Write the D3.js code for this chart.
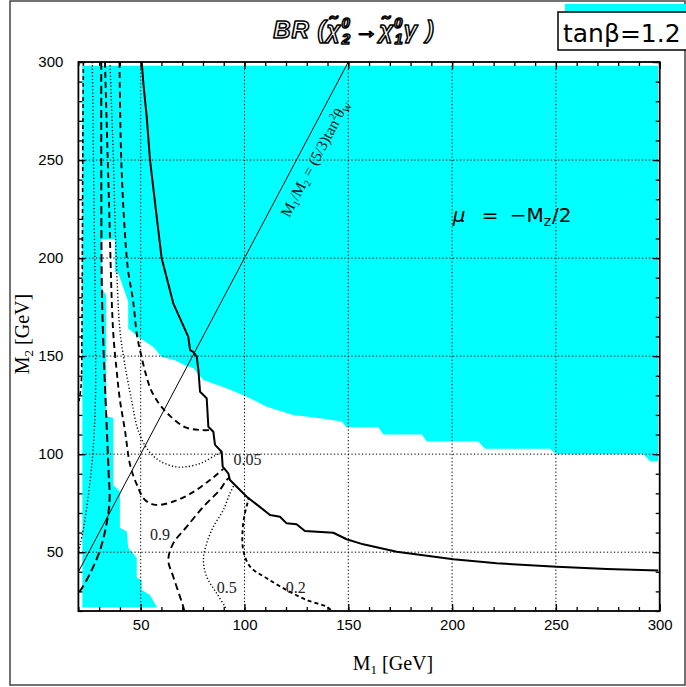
<!DOCTYPE html>
<html>
<head>
<meta charset="utf-8">
<script src="https://cdn.jsdelivr.net/npm/d3@7"></script>
<style>
  html, body { margin: 0; padding: 0; background: #fff; }
  svg { display: block; }
</style>
</head>
<body>
<svg id="chart" width="686" height="687"></svg>
<script>
// ---------------- DATA (GeV) ----------------
const xDomain = [20, 300];
const yDomain = [20, 300];
const xTicks = [50, 100, 150, 200, 250, 300];
const yTicks = [50, 100, 150, 200, 250, 300];
const minorTicks = [20, 30, 40, 50, 60, 70, 80, 90, 100, 110, 120, 130, 140, 150, 160, 170, 180, 190, 200,
  210, 220, 230, 240, 250, 260, 270, 280, 290, 300];
const gridValues = [50, 100, 150, 200, 250];

// shaded (cyan) extent of the scanned grid
const cyanX = [21.9, 299.2];
const cyanY = [21.8, 298.1];

// white (allowed) region boundary, [M1, M2]
const whiteRegion = [[31.2,209.7],[37.6,209.7],[37.6,193.0],[39.2,192.2],[44.0,177.7],[44.0,164.1],
  [48.9,159.8],[56.1,154.7],[60.1,149.6],[66.5,147.9],[71.3,145.4],[75.4,143.8],[80.2,137.8],
  [91.4,133.6],[101.1,129.3],[110.7,124.2],[123.5,120.0],[136.4,118.3],[146.8,116.6],[149.2,113.7],
  [164.5,113.7],[166.9,110.0],[185.4,110.0],[187.8,106.4],[212.6,106.4],[215.8,102.8],[247.1,102.8],
  [250.4,99.9],[292.1,99.9],[295.3,96.5],[300,96.5],[300,20],[58.5,20],[57.7,22.2],[54.5,28.2],
  [50.5,30.7],[50.5,35.8],[48.1,36.9],[48.1,47.1],[44.0,52.2],[43.3,60.5],[40.0,62.4],[40.0,80.9],
  [36.8,84.3],[36.8,118.4],[33.4,119.5],[33.4,181.2],[31.2,184.7]];

// thick solid boundary curve
const solidLine = [[50.5,300],[51.3,289.1],[52.9,272.1],[54.5,250],[57.7,221.1],[60.1,199.9],[65.7,176.9],
  [72.9,159.9],[73.8,153.1],[75.3,152.2],[77.0,149.7],[77.8,142.9],[78.6,131.8],[81.8,128.5],[82.6,114],
  [85.0,111.4],[85.8,104.7],[89.0,101.2],[89.5,93.6],[92.2,90.2],[93.0,86.8],[101.1,78.3],[112.3,69],
  [117.1,68.1],[120.3,64.7],[125.1,64.2],[129.1,60.8],[142.8,59.9],[149.2,56.6],[157.2,54],[173.3,50.2],
  [200.6,46.4],[221.5,44.3],[250.4,42.6],[274.5,41.4],[299.3,40.6]];

// M1/M2 = (5/3) tan^2 theta_W line
const ratioLine = [[20, 40], [150, 300]];

// BR contours
const contourL1 = [[22.4,300],[22.1,250],[21.9,200],[21.7,160],[21.3,135],[20.3,127]];
const contourP0 = [[26.7,300],[27.5,229.6],[28.2,163.3],[28.2,127.6],[27.0,101.1],[25.1,81.7],[22.7,63.5],[20.8,53.7],[20,50.1]];
const contourD2 = [[31.0,300],[31.1,209.2],[31.4,178.6],[32.3,148.0],[33.5,117.4],[34.5,91.9],[35.0,76.6],[33.6,64.7],[30.4,51.0],[25.6,39.1],[21.6,31.5],[20,29.2]];
const contourD3 = [[32.8,300],[34.7,229.6],[36.7,163.3],[38.4,142.9],[40.0,127.6],[42.4,112.3],[44.9,94.5],[48.2,84.3],[52.1,76.6],[57.4,74.1],[65.1,75.6],[73.8,79.7],[83.4,86.8],[89.8,92.5]];
const contourP1 = [[35.2,300],[36.7,255.1],[38.1,204.1],[40.0,163.3],[42.4,145.5],[45.6,127.6],[48.7,112.3],[53.5,102.1],[59.3,96.5],[68.0,93.4],[78.6,95.2],[86.3,99.6],[89.2,101.1]];
const contourD4 = [[39.8,300],[40.5,255.1],[42.0,219.4],[43.9,193.9],[46.3,178.6],[48.2,160.8],[50.2,150.6],[52.6,140.4],[55.0,132.7],[59.3,125.1],[64.1,119.5],[71.3,113.8],[78.6,112.3],[84.4,112.3]];
const contourB1 = [[71.0,20],[70.5,22.2],[65.7,37.5],[63.3,46.0],[65.7,54.5],[72.2,63.0],[80.2,73.2],[88.2,81.9],[91.4,86.8],[92.6,87.9]];
const contourB2 = [[91.5,20],[90.6,22.2],[86.6,29.0],[81.8,37.5],[80.2,46.0],[81.8,54.5],[85.0,63.0],[89.8,71.5],[93.0,80.0],[95.2,84.6]];
const contourB3 = [[141.5,20.6],[139.6,22.2],[130.0,25.6],[120.3,30.7],[110.7,36.7],[102.7,42.6],[99.4,51.1],[99.1,61.3],[100.2,69.8],[101.8,76.6],[102.0,77.8]];

const contourLabels = [
  { text: "0.9",  x: 59.3,  y: 56.2 },
  { text: "0.5",  x: 91.4,  y: 29.2 },
  { text: "0.2",  x: 124.7, y: 29.2 },
  { text: "0.05", x: 101.4, y: 94.4 }
];

// ---------------- DRAWING ----------------
const svg = d3.select("#chart");
const plot = { left: 78.4, right: 659.7, top: 62, bottom: 611 };

const x = d3.scaleLinear().domain(xDomain).range([plot.left, plot.right]);
const y = d3.scaleLinear().domain(yDomain).range([plot.bottom, plot.top]);

// outer frame
svg.append("rect").attr("x", 10).attr("y", 1).attr("width", 675).attr("height", 684)
  .attr("fill", "#fff").attr("stroke", "#444").attr("stroke-width", 1.5);

// cyan region
svg.append("rect")
  .attr("x", x(cyanX[0])).attr("y", y(cyanY[1]))
  .attr("width", x(cyanX[1]) - x(cyanX[0]))
  .attr("height", y(cyanY[0]) - y(cyanY[1]))
  .attr("fill", "#00ffff");

const area = d3.line().x(d => x(d[0])).y(d => y(d[1]));
svg.append("path").attr("d", area(whiteRegion) + "Z").attr("fill", "#fff");

// grid
const grid = svg.append("g").attr("stroke", "#000").attr("stroke-width", 1).attr("stroke-dasharray", "1.3,2.2");
gridValues.forEach(v => {
  grid.append("line").attr("x1", x(v)).attr("x2", x(v)).attr("y1", plot.top).attr("y2", plot.bottom);
  grid.append("line").attr("y1", y(v)).attr("y2", y(v)).attr("x1", plot.left).attr("x2", plot.right);
});

svg.append("clipPath").attr("id", "clip").append("rect")
  .attr("x", plot.left).attr("y", plot.top).attr("width", plot.right - plot.left).attr("height", plot.bottom - plot.top);

const curves = svg.append("g").attr("clip-path", "url(#clip)").attr("fill", "none").attr("stroke", "#000");
const line = d3.line().x(d => x(d[0])).y(d => y(d[1])).curve(d3.curveCatmullRom.alpha(0.5));
const styles = [
  [contourL1, "4,3", 1.6],
  [contourP0, "1.2,2.2", 1.4],
  [contourD2, "8,4", 2],
  [contourD3, "6,4", 1.9],
  [contourP1, "1.2,2.2", 1.4],
  [contourD4, "6,4", 1.9],
  [contourB1, "7,4", 1.9],
  [contourB2, "1.2,2.2", 1.4],
  [contourB3, "4,3", 1.9]
];
styles.forEach(([data, dash, w]) => {
  curves.append("path").attr("d", line(data)).attr("stroke-dasharray", dash).attr("stroke-width", w);
});

// solid thick curve
const straight = d3.line().x(d => x(d[0])).y(d => y(d[1]));
curves.append("path").attr("d", straight(solidLine)).attr("stroke-width", 2).attr("stroke-linejoin", "round");

// ratio line
curves.append("path").attr("d", straight(ratioLine)).attr("stroke-width", 1);

// contour labels
svg.append("g").selectAll("text").data(contourLabels).join("text")
  .attr("x", d => x(d.x)).attr("y", d => y(d.y))
  .attr("text-anchor", "middle")
  .attr("font-family", "Liberation Serif, serif").attr("font-size", 16).attr("fill", "#222")
  .text(d => d.text);

// ratio line label
const ang = Math.atan2(y(ratioLine[1][1]) - y(ratioLine[0][1]), x(ratioLine[1][0]) - x(ratioLine[0][0])) * 180 / Math.PI;
const lx = x(133.5), ly = y(251);
const rl = svg.append("text")
  .attr("transform", `translate(${lx},${ly}) rotate(${ang})`)
  .attr("text-anchor", "middle").attr("dy", "0.4em")
  .attr("font-family", "Liberation Serif, serif").attr("font-size", 15.5).attr("fill", "#111");
rl.append("tspan").text("M");
rl.append("tspan").attr("font-size", 10).attr("dy", 3).text("1");
rl.append("tspan").attr("dy", -3).text("/M");
rl.append("tspan").attr("font-size", 10).attr("dy", 3).text("2");
rl.append("tspan").attr("dy", -3).text(" = (5/3)tan");
rl.append("tspan").attr("font-size", 10).attr("dy", -6).text("2");
rl.append("tspan").attr("dy", 6).text("θ");
rl.append("tspan").attr("font-size", 10).attr("dy", 3).text("W");

// mu label
const mx = x(200.3), my = y(218.5);
const mu = svg.append("text").attr("y", my).attr("font-family", "DejaVu Sans, sans-serif").attr("font-size", 20).attr("fill", "#000");
mu.append("tspan").attr("x", mx).attr("font-style", "italic").text("μ");
mu.append("tspan").attr("x", mx + 29).text("=");
mu.append("tspan").attr("x", mx + 57).text("−M");
mu.append("tspan").attr("font-size", 14).attr("dy", 4).text("z");
mu.append("tspan").attr("dy", -4).attr("dx", 1).text("/2");

// plot frame
svg.append("rect").attr("x", plot.left).attr("y", plot.top)
  .attr("width", plot.right - plot.left).attr("height", plot.bottom - plot.top)
  .attr("fill", "none").attr("stroke", "#000").attr("stroke-width", 1.8);

// axes
function styleAxis(g) {
  g.select(".domain").remove();
  g.selectAll(".tick line").attr("stroke", "#000").attr("stroke-width", 1.3);
  g.selectAll("text").attr("font-family", "Liberation Sans, Arial, sans-serif").attr("font-size", 15).attr("fill", "#000");
}
svg.append("g").attr("transform", `translate(0,${plot.bottom})`)
  .call(d3.axisBottom(x).tickValues(minorTicks).tickSizeInner(-4).tickSizeOuter(0).tickFormat(""))
  .call(styleAxis);
svg.append("g").attr("transform", `translate(0,${plot.bottom})`)
  .call(d3.axisBottom(x).tickValues(xTicks).tickSizeInner(-7).tickSizeOuter(0).tickPadding(8))
  .call(styleAxis);
svg.append("g").attr("transform", `translate(0,${plot.top})`)
  .call(d3.axisTop(x).tickValues(minorTicks).tickSizeInner(-4).tickSizeOuter(0).tickFormat(""))
  .call(styleAxis);
svg.append("g").attr("transform", `translate(0,${plot.top})`)
  .call(d3.axisTop(x).tickValues(xTicks).tickSizeInner(-7).tickSizeOuter(0).tickFormat(""))
  .call(styleAxis);
svg.append("g").attr("transform", `translate(${plot.left},0)`)
  .call(d3.axisLeft(y).tickValues(minorTicks).tickSizeInner(-4).tickSizeOuter(0).tickFormat(""))
  .call(styleAxis);
svg.append("g").attr("transform", `translate(${plot.left},0)`)
  .call(d3.axisLeft(y).tickValues(yTicks).tickSizeInner(-7).tickSizeOuter(0).tickPadding(15))
  .call(styleAxis);
svg.append("g").attr("transform", `translate(${plot.right},0)`)
  .call(d3.axisRight(y).tickValues(minorTicks).tickSizeInner(-4).tickSizeOuter(0).tickFormat(""))
  .call(styleAxis);
svg.append("g").attr("transform", `translate(${plot.right},0)`)
  .call(d3.axisRight(y).tickValues(yTicks).tickSizeInner(-7).tickSizeOuter(0).tickFormat(""))
  .call(styleAxis);

// axis titles
const xt = svg.append("text").attr("x", 393).attr("y", 670).attr("text-anchor", "middle")
  .attr("font-family", "Liberation Serif, serif").attr("font-size", 20).attr("fill", "#000");
xt.append("tspan").text("M");
xt.append("tspan").attr("font-size", 13).attr("dy", 4).text("1");
xt.append("tspan").attr("dy", -4).text(" [GeV]");

const yt = svg.append("text").attr("transform", "translate(29,334) rotate(-90)").attr("text-anchor", "middle")
  .attr("font-family", "Liberation Serif, serif").attr("font-size", 20).attr("fill", "#000");
yt.append("tspan").text("M");
yt.append("tspan").attr("font-size", 13).attr("dy", 4).text("2");
yt.append("tspan").attr("dy", -4).text(" [GeV]");

// title (outlined bold italic)
const tt = svg.append("text").attr("x", 354).attr("y", 38).attr("text-anchor", "middle")
  .attr("font-family", "Liberation Sans, Arial, sans-serif").attr("font-style", "italic").attr("font-weight", "bold")
  .attr("font-size", 24).attr("fill", "#fff").attr("stroke", "#000").attr("stroke-width", 1.5)
  .attr("stroke-linejoin", "round").attr("letter-spacing", 1);
tt.append("tspan").text("BR (");
tt.append("tspan").text("χ̃");
tt.append("tspan").attr("font-size", 15).attr("dy", -10).text("0");
tt.append("tspan").attr("font-size", 15).attr("dx", -9).attr("dy", 16).text("2");
tt.append("tspan").attr("dy", -6).attr("dx", 3).text("→");
tt.append("tspan").text("χ̃");
tt.append("tspan").attr("font-size", 15).attr("dy", -10).text("0");
tt.append("tspan").attr("font-size", 15).attr("dx", -9).attr("dy", 16).text("1");
tt.append("tspan").attr("dy", -6).text("γ )");

// tan beta box
svg.append("rect").attr("x", 565).attr("y", 4).attr("width", 121).attr("height", 7.5).attr("fill", "#00ffff");
svg.append("rect").attr("x", 558).attr("y", 12).attr("width", 130).attr("height", 38)
  .attr("fill", "#fff").attr("stroke", "#000").attr("stroke-width", 1.5);
svg.append("text").attr("x", 563).attr("y", 41.5)
  .attr("font-family", "DejaVu Sans, sans-serif").attr("font-size", 25).attr("fill", "#000")
  .text("tanβ=1.2");
</script>
</body>
</html>
